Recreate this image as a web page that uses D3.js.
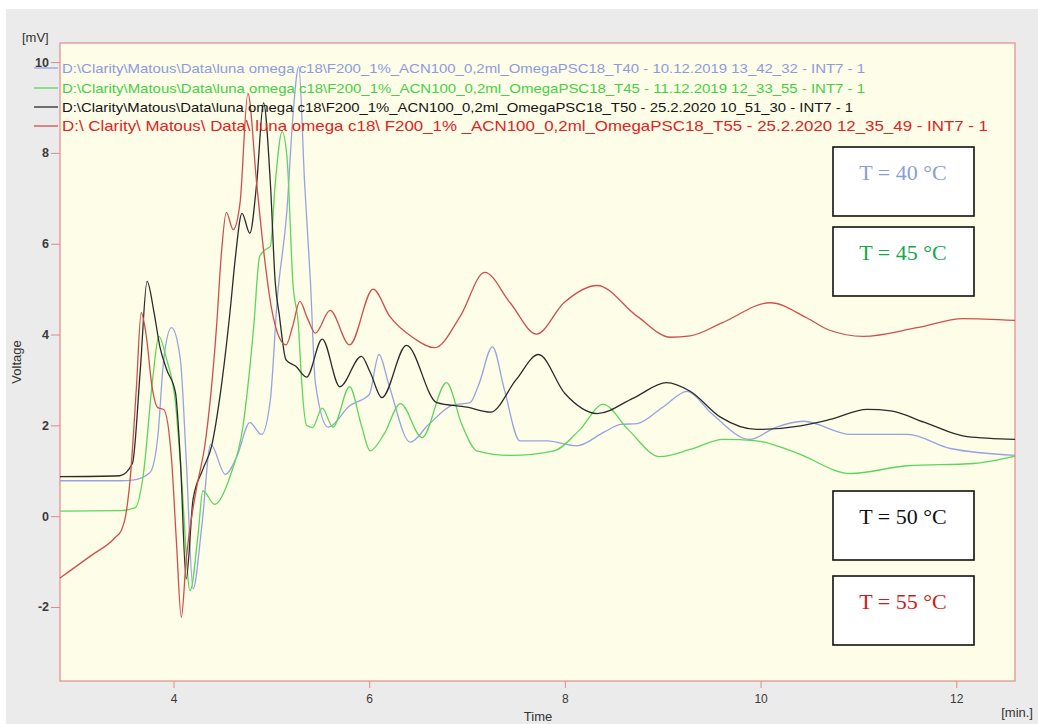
<!DOCTYPE html>
<html>
<head>
<meta charset="utf-8">
<script src="https://cdn.jsdelivr.net/npm/d3@7"></script>
<style>
  body { margin: 0; background: #ffffff; }
  svg { display: block; }
</style>
</head>
<body>
<div id="content"></div>
<script>
// Chromatogram traces, [time in min, signal in mV].
var t40 = [
  [2.84,0.78],[3.45,0.78],[3.6,0.8],[3.76,0.96],[3.84,1.76],[3.90,3.45],[3.98,4.15],
  [4.07,3.45],[4.13,1.25],[4.20,-1.6],[4.29,-0.21],[4.38,1.58],[4.53,0.92],[4.65,1.33],
  [4.78,2.06],[4.90,1.80],[4.99,2.57],[5.06,4.77],[5.16,6.75],[5.22,8.8],[5.28,9.9],
  [5.34,7.33],[5.40,5.14],[5.45,2.93],[5.58,1.96],[5.80,2.43],[6.0,2.68],[6.10,3.56],
  [6.2,2.9],[6.42,1.63],[6.6,2.0],[6.86,2.45],[7.03,2.5],[7.12,2.9],[7.26,3.73],
  [7.38,2.8],[7.54,1.66],[7.82,1.66],[8.12,1.55],[8.4,1.85],[8.57,2.02],[8.74,2.04],
  [9.0,2.4],[9.25,2.75],[9.49,2.28],[9.89,1.69],[10.15,1.95],[10.44,2.09],[10.92,1.80],
  [11.5,1.80],[11.94,1.49],[12.6,1.34]
];
var t45 = [
  [2.84,0.11],[3.45,0.12],[3.61,0.19],[3.69,0.89],[3.79,3.08],[3.85,3.96],[3.93,3.45],
  [4.02,2.5],[4.08,0.89],[4.17,-1.64],[4.25,-0.43],[4.30,0.56],[4.42,0.26],[4.58,0.89],
  [4.71,1.98],[4.82,4.18],[4.88,5.72],[4.94,5.87],[4.99,5.94],[5.04,7.33],[5.11,8.47],
  [5.16,7.9],[5.22,5.14],[5.28,4.1],[5.30,3.3],[5.36,2.0],[5.42,1.95],[5.52,2.38],
  [5.63,1.96],[5.80,2.85],[5.92,2.0],[6.01,1.44],[6.15,1.8],[6.32,2.48],[6.54,1.73],
  [6.79,2.94],[6.95,2.0],[7.10,1.44],[7.44,1.34],[7.89,1.44],[8.15,1.9],[8.39,2.46],
  [8.65,1.9],[8.97,1.31],[9.28,1.47],[9.62,1.69],[9.96,1.66],[10.36,1.40],[10.92,0.94],
  [11.5,1.11],[12.18,1.16],[12.6,1.32]
];
var t50 = [
  [2.84,0.87],[3.45,0.89],[3.58,1.16],[3.66,3.2],[3.73,5.17],[3.80,4.5],[3.86,3.74],
  [3.93,3.23],[4.02,2.72],[4.07,1.25],[4.13,-1.38],[4.20,0.37],[4.30,1.03],[4.39,1.55],
  [4.48,2.72],[4.58,4.55],[4.63,5.65],[4.70,6.67],[4.78,6.23],[4.85,7.33],[4.92,9.1],
  [4.99,7.33],[5.04,5.14],[5.08,4.45],[5.15,3.44],[5.25,3.3],[5.36,3.06],[5.52,3.9],
  [5.70,2.85],[5.92,3.52],[6.01,3.17],[6.13,2.61],[6.38,3.76],[6.69,2.5],[7.0,2.4],
  [7.24,2.29],[7.5,3.0],[7.73,3.56],[8.0,2.7],[8.33,2.26],[8.7,2.6],[9.04,2.94],
  [9.28,2.75],[9.59,2.18],[9.96,1.91],[10.41,1.99],[10.71,2.13],[11.09,2.35],[11.33,2.32],
  [11.67,2.07],[12.11,1.75],[12.6,1.69]
];
var t55 = [
  [2.84,-1.36],[3.15,-0.88],[3.40,-0.48],[3.47,-0.3],[3.51,0.0],[3.56,0.89],[3.62,2.8],
  [3.67,4.48],[3.72,4.0],[3.78,2.86],[3.84,2.39],[3.90,2.35],[3.98,1.25],[4.03,-0.57],
  [4.08,-2.23],[4.13,-0.94],[4.24,0.67],[4.32,1.55],[4.44,4.18],[4.49,5.8],[4.54,6.69],
  [4.61,6.31],[4.68,6.9],[4.76,9.31],[4.85,7.33],[4.92,5.87],[5.0,4.6],[5.08,3.94],
  [5.15,3.77],[5.22,4.2],[5.29,4.73],[5.37,4.35],[5.45,4.03],[5.60,4.53],[5.80,3.77],
  [6.04,5.0],[6.21,4.4],[6.45,3.93],[6.67,3.71],[6.93,4.4],[7.18,5.37],[7.44,4.7],
  [7.71,4.01],[7.99,4.7],[8.33,5.08],[8.74,4.4],[9.08,3.94],[9.28,3.97],[9.6,4.25],
  [10.10,4.70],[10.47,4.37],[10.7,4.1],[11.05,3.96],[11.6,4.15],[12.07,4.35],[12.6,4.31]
];

// Legend file names and the temperature labels.
var fileNames = [
  "D:\\Clarity\\Matous\\Data\\luna omega c18\\F200_1%_ACN100_0,2ml_OmegaPSC18_T40 - 10.12.2019 13_42_32 - INT7 - 1",
  "D:\\Clarity\\Matous\\Data\\luna omega c18\\F200_1%_ACN100_0,2ml_OmegaPSC18_T45 - 11.12.2019 12_33_55 - INT7 - 1",
  "D:\\Clarity\\Matous\\Data\\luna omega c18\\F200_1%_ACN100_0,2ml_OmegaPSC18_T50 - 25.2.2020 10_51_30 - INT7 - 1",
  "D:\\ Clarity\\ Matous\\ Data\\ luna omega c18\\ F200_1% _ACN100_0,2ml_OmegaPSC18_T55 - 25.2.2020 12_35_49 - INT7 - 1"
];
var tempLabels = ["T = 40 °C", "T = 45 °C", "T = 50 °C", "T = 55 °C"];
var yTicks = [-2, 0, 2, 4, 6, 8, 10];
var xTicks = [4, 6, 8, 10, 12];

var traces = [t40, t45, t50, t55];
var lineColors = ["#98a2e2", "#5cd65c", "#2b2b2b", "#cf4f4f"];
var legendColors = ["#8e9ae0", "#46cf46", "#151515", "#e02424"];
var labelColors = ["#8a9ed6", "#17a84b", "#111111", "#d21a1a"];
var legendWidths = [803, 803, 791, 926];

// Main SVG container.
var W = 1038, H = 724;
var svg = d3.select('#content')
              .append('svg')
              .attr('width', W)
              .attr('height', H);

svg.append('rect')
    .attr('x', 6).attr('y', 9)
    .attr('width', W - 6).attr('height', H - 9)
    .style('fill', '#ebebeb');

// Plot frame.
var plot = {left : 60, right : 1015, top : 43, bottom : 681};

var scaleX = d3.scaleLinear()
                 .domain([ 2.84, 12.6 ])
                 .range([ plot.left, plot.right ]);
var scaleY = d3.scaleLinear()
                 .domain([ -3.63, 10.42 ])
                 .range([ plot.bottom, plot.top ]);

svg.append('rect')
    .attr('x', plot.left).attr('y', plot.top)
    .attr('width', plot.right - plot.left)
    .attr('height', plot.bottom - plot.top)
    .style('fill', '#fdfde8')
    .style('stroke', '#e38c8c')
    .style('stroke-width', 1.2);

// Axes (no domain line, the frame does that job). Plain hyphen for negatives.
var yAxis = svg.append('g')
    .attr('transform', 'translate(' + plot.left + ',0)')
    .call(d3.axisLeft(scaleY).tickValues(yTicks).tickSize(9).tickPadding(2)
              .tickFormat(function(d) { return String(d); }));
var xAxis = svg.append('g')
    .attr('transform', 'translate(0,' + plot.bottom + ')')
    .call(d3.axisBottom(scaleX).tickValues(xTicks).tickSize(7).tickPadding(6));

[yAxis, xAxis].forEach(function(ax) {
  ax.select('.domain').remove();
  ax.selectAll('line').style('stroke', '#e08a8a');
  ax.selectAll('text')
      .style('font-family', 'Liberation Sans, Arial, sans-serif')
      .style('font-size', '12px')
      .style('fill', '#3a3a3a');
});
yAxis.selectAll('text').style('font-weight', 'bold').style('font-size', '12.5px');

// Axis titles.
var titleFont = 'Liberation Sans, Arial, sans-serif';
svg.append('text').text('[mV]')
    .attr('x', 22).attr('y', 42)
    .style('font-family', titleFont).style('font-size', '13px').style('fill', '#333');
svg.append('text').text('Voltage')
    .attr('transform', 'translate(21,362) rotate(-90)')
    .attr('text-anchor', 'middle')
    .style('font-family', titleFont).style('font-size', '13px').style('fill', '#333');
svg.append('text').text('Time')
    .attr('x', 538).attr('y', 721)
    .attr('text-anchor', 'middle')
    .style('font-family', titleFont).style('font-size', '13px').style('fill', '#333');
svg.append('text').text('[min.]')
    .attr('x', 1033).attr('y', 717)
    .attr('text-anchor', 'end')
    .style('font-family', titleFont).style('font-size', '13px').style('fill', '#333');

// Traces.
var line = d3.line()
    .x(function(d) { return scaleX(d[0]); })
    .y(function(d) { return scaleY(d[1]); })
    .curve(d3.curveMonotoneX);

svg.append('g')
    .selectAll('path')
    .data(traces)
    .enter()
    .append('path')
    .attr('d', line)
    .style('fill', 'none')
    .style('stroke', function(d, i) { return lineColors[i]; })
    .style('stroke-width', 1.3);

// Legend rows: swatch left of the frame, file name inside.
var legendY = [68, 88, 107, 126];
var legend = svg.append('g');
legend.selectAll('line')
    .data(fileNames)
    .enter()
    .append('line')
    .attr('x1', 34).attr('x2', 58)
    .attr('y1', function(d, i) { return legendY[i]; })
    .attr('y2', function(d, i) { return legendY[i]; })
    .style('stroke', function(d, i) { return lineColors[i]; })
    .style('stroke-width', 1.3);
legend.selectAll('text')
    .data(fileNames)
    .enter()
    .append('text')
    .text(function(d) { return d; })
    .attr('x', 62)
    .attr('y', function(d, i) { return legendY[i] + 5; })
    .attr('textLength', function(d, i) { return legendWidths[i]; })
    .attr('lengthAdjust', 'spacingAndGlyphs')
    .style('font-family', titleFont)
    .style('font-size', function(d, i) { return i === 3 ? '14.5px' : '13.5px'; })
    .style('fill', function(d, i) { return legendColors[i]; });

// Temperature boxes.
var boxTop = [147, 227, 491, 576];
var boxes = svg.append('g')
    .selectAll('g')
    .data(tempLabels)
    .enter()
    .append('g')
    .attr('transform', function(d, i) { return 'translate(833,' + boxTop[i] + ')'; });
boxes.append('rect')
    .attr('width', 141).attr('height', 69)
    .style('fill', '#ffffff')
    .style('stroke', '#111')
    .style('stroke-width', 1.6);
boxes.append('text')
    .text(function(d) { return d; })
    .attr('x', 70).attr('y', 33)
    .attr('text-anchor', 'middle')
    .style('font-family', 'Liberation Serif, Times New Roman, serif')
    .style('font-size', '22px')
    .style('fill', function(d, i) { return labelColors[i]; });
</script>
</body>
</html>
